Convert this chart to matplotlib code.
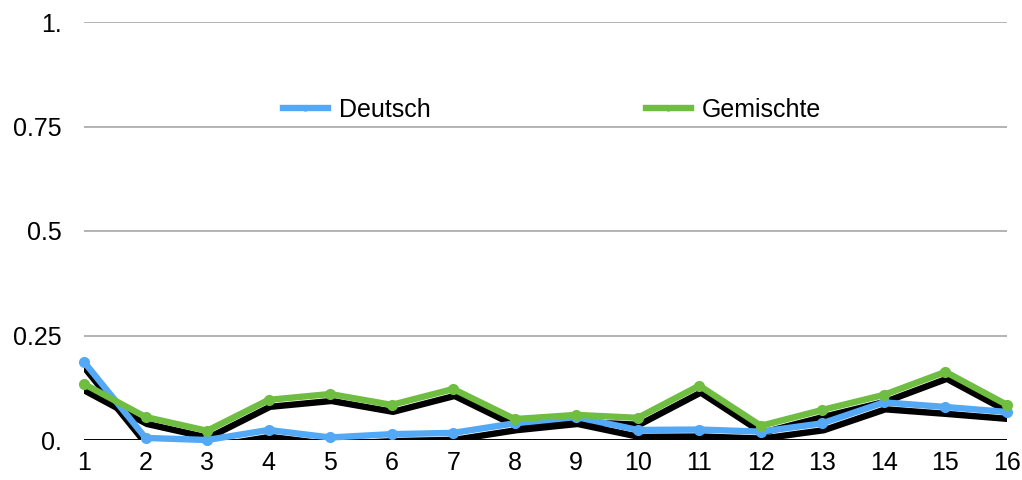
import matplotlib
matplotlib.use("Agg")
import matplotlib.pyplot as plt
import matplotlib.patheffects as pe

plt.rcParams['font.family'] = ['Liberation Sans', 'DejaVu Sans']

x = list(range(1, 17))
x_labels = [str(i) for i in x]
deutsch = [0.187, 0.005, 0.0, 0.024, 0.006, 0.014, 0.017, 0.040, 0.055,
           0.024, 0.025, 0.020, 0.040, 0.090, 0.079, 0.067]
gemischte = [0.134, 0.055, 0.022, 0.096, 0.110, 0.084, 0.122, 0.050, 0.060,
             0.053, 0.130, 0.034, 0.072, 0.108, 0.163, 0.084]
y_ticks = [0, 0.25, 0.5, 0.75, 1.0]
y_labels = ["0.", "0.25", "0.5", "0.75", "1."]

blue = '#53a9f5'
green = '#6fbd41'
fs = 18

fig = plt.figure(figsize=(10.22, 4.8), dpi=100)
ax = fig.add_axes([84/1022, 40/480, (1007-84)/1022, (440-22)/480])

# shadows (clipped to plot area)
for series in (deutsch, gemischte):
    ax.plot(x, series, color='none', lw=4.6, zorder=2, clip_on=True,
            path_effects=[pe.SimpleLineShadow(offset=(1, -5),
                                              shadow_color='black', alpha=1.0)])

ax.plot(x, deutsch, color=blue, lw=4.6, marker='o', ms=7, label='Deutsch',
        zorder=3, clip_on=False, solid_joinstyle='miter')
ax.plot(x, gemischte, color=green, lw=4.6, marker='o', ms=7, label='Gemischte',
        zorder=4, clip_on=False, solid_joinstyle='miter')

ax.set_xlim(1, 16)
ax.set_ylim(0, 1)
ax.set_xticks(x)
ax.set_xticklabels(x_labels)
ax.set_yticks(y_ticks)
ax.set_yticklabels(y_labels)
ax.tick_params(axis='both', length=0, labelsize=fs)
ax.tick_params(axis='y', pad=16)
ax.tick_params(axis='x', pad=8)
for s in ax.spines.values():
    s.set_visible(False)
for yv in y_ticks[1:]:
    ax.axhline(yv, color='#b3b3b3', lw=1.4, zorder=1)
ax.axhline(0, color='black', lw=1.4, zorder=1)

leg = ax.legend(loc='center', bbox_to_anchor=(552/1022, (480-110)/480),
                bbox_transform=fig.transFigure, ncol=2, frameon=False,
                fontsize=fs, handlelength=1.8, handletextpad=0.45,
                columnspacing=8.6, markerscale=0.5)

fig.savefig('out.png', dpi=100)
